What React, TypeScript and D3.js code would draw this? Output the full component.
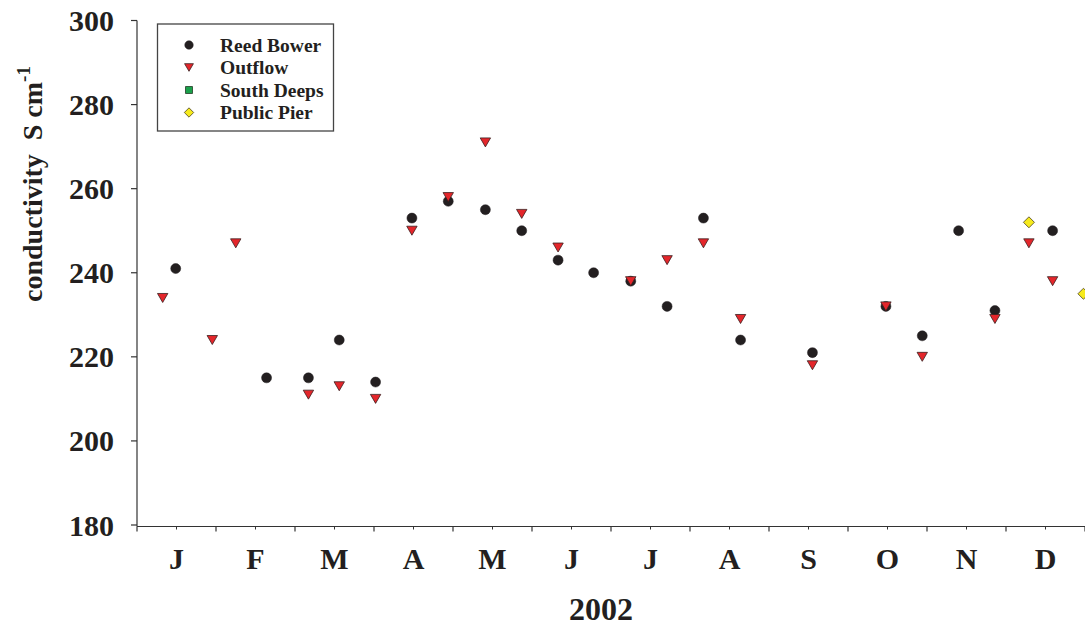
import React from "react";
import * as d3 from "d3";

const monthLabels = ["J", "F", "M", "A", "M", "J", "J", "A", "S", "O", "N", "D"];
const yTickValues = [180, 200, 220, 240, 260, 280, 300];

// x positions in months since 1 Jan 2002 (fractional), y in conductivity
const reedBowerX = [0.49, 1.64, 2.17, 2.56, 3.02, 3.48, 3.94, 4.41, 4.87, 5.33, 5.78, 6.25, 6.71, 7.17, 7.64, 8.55, 9.48, 9.94, 10.4, 10.86, 11.59];
const reedBowerY = [241, 215, 215, 224, 214, 253, 257, 255, 250, 243, 240, 238, 232, 253, 224, 221, 232, 225, 250, 231, 250];

const outflowX = [0.325, 0.953, 1.25, 2.17, 2.56, 3.02, 3.48, 3.94, 4.41, 4.87, 5.33, 6.25, 6.71, 7.17, 7.64, 8.55, 9.48, 9.94, 10.86, 11.29, 11.59];
const outflowY = [234, 224, 247, 211, 213, 210, 250, 258, 271, 254, 246, 238, 243, 247, 229, 218, 232, 220, 229, 247, 238];

const southDeepsX: number[] = [];
const southDeepsY: number[] = [];

const publicPierX = [11.29, 11.98];
const publicPierY = [252, 235];

const legendNames = ["Reed Bower", "Outflow", "South Deeps", "Public Pier"];

const W = 1085;
const H = 630;
const axisColor = "#333";
const textColor = "#231f20";
const font = "'Liberation Serif', 'Times New Roman', serif";

function Marker({ kind, x, y, s = 1 }: { kind: number; x: number; y: number; s?: number }) {
  if (kind === 0) return <circle cx={x} cy={y} r={5 * s} fill="#231f20" stroke="#231f20" strokeWidth={0.5} />;
  if (kind === 1) {
    const w = 5.2 * s, h = 4.5 * s;
    return (
      <path
        d={`M${x - w},${y - h}L${x + w},${y - h}L${x},${y + h}Z`}
        fill="#e4262b"
        stroke="#3a2020"
        strokeWidth={0.8}
      />
    );
  }
  if (kind === 2) {
    const a = 4 * s;
    return <rect x={x - a} y={y - a} width={2 * a} height={2 * a} fill="#1aa04a" stroke="#1e3a22" strokeWidth={0.8} />;
  }
  const a = 5.5 * s;
  return (
    <path
      d={`M${x},${y - a}L${x + a},${y}L${x},${y + a}L${x - a},${y}Z`}
      fill="#f6ea1c"
      stroke="#4a4020"
      strokeWidth={0.8}
    />
  );
}

export default function App() {
  const x = d3.scaleLinear().domain([0, 12]).range([137, 1085]);
  const y = d3.scaleLinear().domain([180, 300]).range([525, 20.5]);
  const axisY = 526.5;
  const majorTicks = d3.range(0, 13);
  const minorTicks = d3.range(0.5, 12, 1);

  const series = [
    { xs: reedBowerX, ys: reedBowerY },
    { xs: outflowX, ys: outflowY },
    { xs: southDeepsX, ys: southDeepsY },
    { xs: publicPierX, ys: publicPierY },
  ];

  return (
    <div style={{ position: "fixed", left: 0, top: 0 }}>
      <svg width={W} height={H} style={{ display: "block", background: "#fff" }}>
        {/* y axis */}
        <line x1={137} x2={137} y1={y(300)} y2={axisY} stroke={axisColor} strokeWidth={1.2} />
        {yTickValues.map((v) => (
          <g key={v}>
            <line x1={131} x2={137} y1={y(v)} y2={y(v)} stroke={axisColor} strokeWidth={1.2} />
            <text
              x={114}
              y={y(v)}
              dy="0.35em"
              textAnchor="end"
              fontFamily={font}
              fontWeight="bold"
              fontSize={30}
              fill={textColor}
            >
              {v}
            </text>
          </g>
        ))}
        {/* x axis */}
        <line x1={137} x2={W} y1={axisY} y2={axisY} stroke={axisColor} strokeWidth={1.2} />
        {majorTicks.map((m) => (
          <line key={"M" + m} x1={x(m)} x2={x(m)} y1={axisY} y2={axisY + 5} stroke={axisColor} strokeWidth={1.2} />
        ))}
        {minorTicks.map((m) => (
          <line key={"m" + m} x1={x(m)} x2={x(m)} y1={axisY} y2={axisY + 3} stroke={axisColor} strokeWidth={1} />
        ))}
        {monthLabels.map((lab, i) => (
          <text
            key={i}
            x={x(i + 0.5)}
            y={569}
            textAnchor="middle"
            fontFamily={font}
            fontWeight="bold"
            fontSize={30}
            fill={textColor}
          >
            {lab}
          </text>
        ))}
        <text x={601} y={620} textAnchor="middle" fontFamily={font} fontWeight="bold" fontSize={32} fill={textColor}>
          2002
        </text>
        {/* y title */}
        <text
          transform={`translate(42,302) rotate(-90)`}
          fontFamily={font}
          fontWeight="bold"
          fontSize={28}
          fill={textColor}
        >
          conductivity{"\u00a0\u00a0"}S cm
          <tspan dy={-12} fontSize={19}>-1</tspan>
        </text>
        {/* data */}
        {series.map((s, k) =>
          s.xs.map((xv, i) => <Marker key={k + "-" + i} kind={k} x={x(xv)} y={y(s.ys[i])} />)
        )}
        {/* legend */}
        <rect x={157.5} y={24} width={176} height={107} fill="#fff" stroke="#444" strokeWidth={1.3} />
        {legendNames.map((n, i) => (
          <g key={n}>
            <Marker kind={i} x={189} y={45 + i * 22.5} s={0.85} />
            <text
              x={220}
              y={45 + i * 22.5}
              dy="0.35em"
              fontFamily={font}
              fontWeight="bold"
              fontSize={19.5}
              fill={textColor}
            >
              {n}
            </text>
          </g>
        ))}
      </svg>
    </div>
  );
}
